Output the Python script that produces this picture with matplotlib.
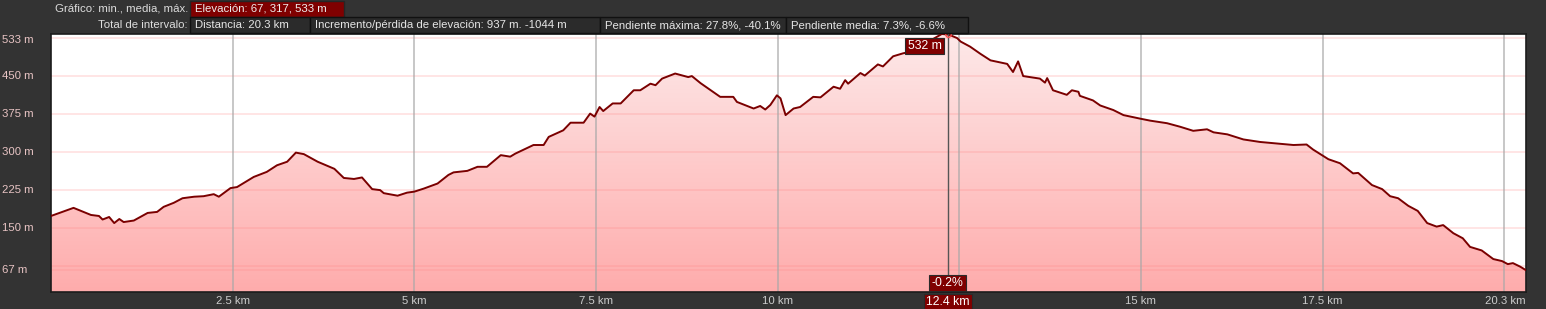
import numpy as np
import matplotlib
matplotlib.use("Agg")
import matplotlib.pyplot as plt
from matplotlib.colors import LinearSegmentedColormap
from matplotlib.patches import Rectangle
import matplotlib.transforms as mtransforms

# perfil de elevación (km, m)
dist_km = [0, 0.31, 0.55, 0.66, 0.71, 0.8, 0.87, 0.94, 1.0, 1.14, 1.33, 1.46, 1.55,
           1.69, 1.81, 1.97, 2.1, 2.24, 2.31, 2.47, 2.56, 2.79, 2.97, 3.11, 3.25, 3.37,
           3.48, 3.67, 3.9, 4.03, 4.17, 4.28, 4.42, 4.53, 4.58, 4.77, 4.9, 5.0, 5.13,
           5.32, 5.47, 5.54, 5.73, 5.87, 6.0, 6.19, 6.32, 6.39, 6.64, 6.78, 6.85, 7.05,
           7.15, 7.33, 7.42, 7.48, 7.55, 7.6, 7.73, 7.84, 8.02, 8.11, 8.25, 8.32, 8.41,
           8.59, 8.77, 8.82, 8.94, 9.21, 9.39, 9.44, 9.67, 9.76, 9.83, 9.9, 9.99, 10.04,
           10.11, 10.22, 10.31, 10.49, 10.59, 10.77, 10.86, 10.93, 10.97, 11.14, 11.2,
           11.38, 11.45, 11.59, 11.73, 11.8, 12.0, 12.15, 12.26, 12.34, 12.37, 12.47,
           12.52, 12.65, 12.79, 12.93, 13.16, 13.24, 13.31, 13.38, 13.61, 13.68, 13.71,
           13.79, 13.98, 14.05, 14.14, 14.16, 14.34, 14.44, 14.62, 14.76, 14.99, 15.13,
           15.36, 15.54, 15.72, 15.91, 16.0, 16.19, 16.41, 16.64, 16.87, 17.1, 17.28,
           17.37, 17.47, 17.58, 17.74, 17.92, 17.99, 18.18, 18.32, 18.43, 18.54, 18.68,
           18.81, 18.94, 19.07, 19.16, 19.3, 19.43, 19.53, 19.69, 19.85, 19.97, 20.05,
           20.12, 20.22, 20.3]
elev_m = [174, 190, 176, 174, 167, 172, 160, 168, 162, 165, 180, 182, 192,
          200, 209, 212, 213, 217, 212, 229, 231, 251, 261, 274, 281, 299,
          296, 281, 267, 249, 247, 250, 227, 225, 219, 214, 220, 222, 228,
          238, 255, 260, 263, 271, 271, 294, 291, 297, 314, 314, 330, 343,
          358, 358, 376, 370, 389, 381, 396, 396, 422, 422, 435, 432, 445,
          455, 448, 450, 436, 409, 409, 399, 386, 391, 384, 393, 412, 406,
          373, 386, 389, 409, 408, 429, 425, 442, 435, 456, 451,
          473, 469, 489, 495, 497, 510, 524, 533, 532, 531, 525,
          518, 508, 494, 481, 474, 458, 479, 450, 445, 437, 446,
          422, 413, 422, 419, 411, 402, 392, 383, 373, 366, 362,
          357, 350, 342, 345, 339, 335, 325, 320, 317, 314, 315,
          305, 296, 286, 278, 258, 259, 235, 227, 213, 209, 194,
          184, 160, 153, 156, 140, 130, 113, 106, 89, 85, 79,
          81, 74, 67]

y_labels = [533, 450, 375, 300, 225, 150, 67]
y_grid = [67, 75, 150, 225, 300, 375, 450, 525]
x_grid = [2.5, 5, 7.5, 10, 12.5, 15, 17.5, 20]
x_labels = [2.5, 5, 7.5, 10, 15, 17.5]
x_label_txt = ["2.5 km", "5 km", "7.5 km", "10 km", "15 km", "17.5 km"]

cursor_km = 12.34
cursor_elev = 532

header_row1 = [("Elevación: 67, 317, 533 m", 190, 344)]
header_row2 = [("Distancia: 20.3 km", 190, 310),
               ("Incremento/pérdida de elevación: 937 m. -1044 m", 310, 600),
               ("Pendiente máxima: 27.8%, -40.1%", 600, 786),
               ("Pendiente media: 7.3%, -6.6%", 786, 968)]

plt.rcParams['font.family'] = ['Liberation Sans', 'DejaVu Sans']
FS = 8.2
W, H = 1546, 309
bg = '#333333'
dark_red = '#800000'

fig = plt.figure(figsize=(W / 100, H / 100), dpi=100, facecolor=bg)
ax = fig.add_axes([51 / W, 17 / H, 1475 / W, 258 / H])
ax.set_facecolor('white')
ymin, ymax = 24, 533
ax.set_xlim(0, 20.3)
ax.set_ylim(ymin, ymax)

# relleno con degradado
cmap = LinearSegmentedColormap.from_list('fill', ['#ffacac', '#fde9e9'])
grad = np.linspace(0, 1, 256).reshape(-1, 1)
poly = ax.fill_between(dist_km, elev_m, ymin, facecolor='none', edgecolor='none')
im = ax.imshow(grad, extent=[0, 20.3, ymin, ymax], origin='lower', aspect='auto',
               cmap=cmap, zorder=1)
im.set_clip_path(poly.get_paths()[0], transform=ax.transData)

for v in y_grid:
    ax.axhline(v, color='#ff8080', alpha=0.22, lw=1.3, zorder=2)
for v in x_grid:
    ax.axvline(v, color='#a8a8a8', alpha=0.75, lw=1.2, zorder=2)

ax.plot(dist_km, elev_m, color='#7a0000', lw=1.4, zorder=4, solid_joinstyle='round')

# cursor
ax.axvline(cursor_km, color='#555555', lw=1.0, zorder=5)
ax.plot([cursor_km], [cursor_elev + 0.5], 'o', ms=4, mfc='none', mec='#ff5050',
        mew=1, zorder=6, clip_on=False)

ax.set_xticks([])
ax.set_yticks([])
for s in ax.spines.values():
    s.set_color('#1c1c1c')
    s.set_linewidth(1.2)

box = dict(boxstyle='square,pad=0.18', fc=dark_red, ec='#2a2a2a', lw=0.8)
off = mtransforms.offset_copy
ax.text(cursor_km, ymax, "532 m", color='white', fontsize=FS + 0.6, ha='right', va='top',
        bbox=box, zorder=7,
        transform=off(ax.transData, fig=fig, x=-6, y=-6, units='dots'))
ax.text(cursor_km, 0, "-0.2%", color='white', fontsize=FS + 0.6, ha='center', va='bottom',
        bbox=box, zorder=7,
        transform=off(ax.get_xaxis_transform(), fig=fig, x=0, y=3, units='dots'))
ax.text(cursor_km, 0, "12.4 km", color='white', fontsize=FS + 0.6, ha='center', va='top',
        bbox=box, zorder=7, clip_on=False,
        transform=off(ax.get_xaxis_transform(), fig=fig, x=0, y=-4, units='dots'))

# etiquetas de ejes
xt = ax.get_xaxis_transform()
for v, t in zip(x_labels, x_label_txt):
    ax.text(v, -9 / 258, t, color='#cccccc', fontsize=FS, ha='center', va='center',
            transform=xt, clip_on=False)
ax.text(20.3, -9 / 258, "20.3 km", color='#cccccc', fontsize=FS, ha='right', va='center',
        transform=xt, clip_on=False)

yt = mtransforms.blended_transform_factory(fig.transFigure, ax.transData)
for v in y_labels:
    if v == max(y_labels):
        ax.text(2 / W, v, f"{v} m", color='#e8c4c4', fontsize=FS, ha='left', va='top',
                transform=off(yt, fig=fig, x=0, y=-1, units='dots'), clip_on=False)
    else:
        ax.text(2 / W, v, f"{v} m", color='#e8c4c4', fontsize=FS, ha='left', va='center',
                transform=yt, clip_on=False)

# cabecera
hdr = fig.add_axes([0, 0, 1, 1])
hdr.set_xlim(0, W)
hdr.set_ylim(H, 0)
hdr.axis('off')
hdr.patch.set_visible(False)
hdr.text(188, 8.5, "Gráfico: min., media, máx.", color='#dddddd', fontsize=FS,
         ha='right', va='center')
hdr.text(188, 25, "Total de intervalo:", color='#dddddd', fontsize=FS,
         ha='right', va='center')
for t, x0, x1 in header_row1:
    hdr.add_patch(Rectangle((x0, 1), x1 - x0, 15.5, fc=dark_red, ec='#262626', lw=1))
    hdr.text(x0 + 5, 8.5, t, color='#eeeeee', fontsize=FS, ha='left', va='center')
for t, x0, x1 in header_row2:
    hdr.add_patch(Rectangle((x0, 17), x1 - x0, 16, fc='#2b2b2b', ec='#111111', lw=1))
    hdr.text(x0 + 5, 25, t, color='#e6e6e6', fontsize=FS, ha='left', va='center')

fig.savefig('out.png', dpi=100, facecolor=bg)
